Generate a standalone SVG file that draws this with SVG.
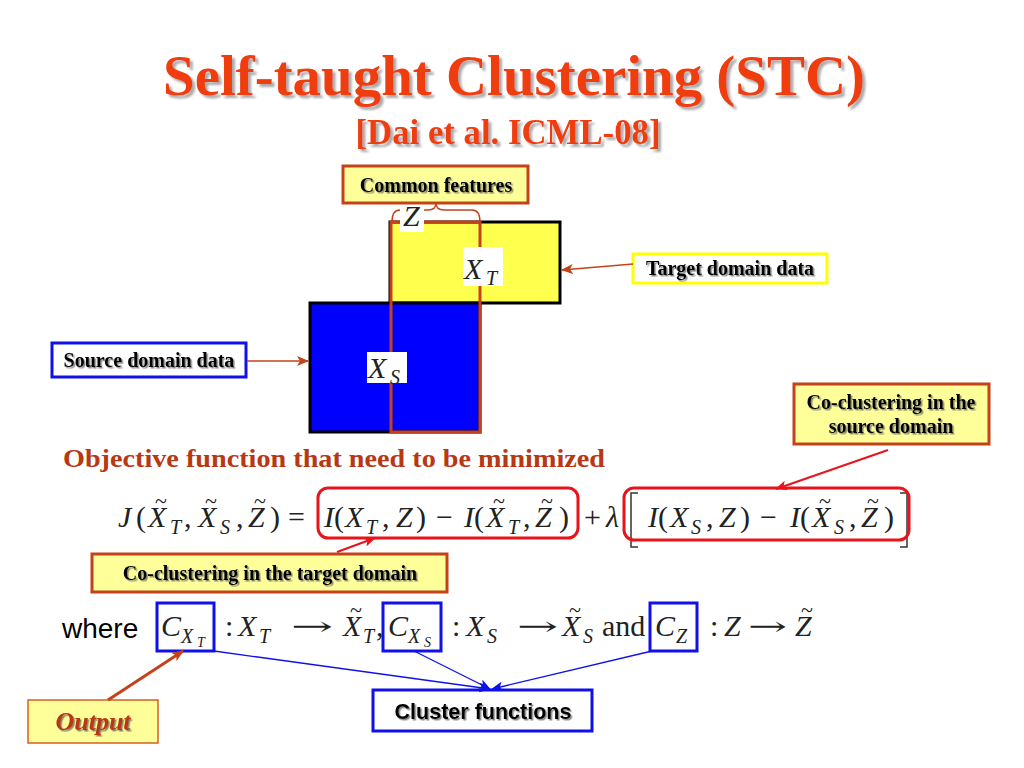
<svg xmlns="http://www.w3.org/2000/svg" width="1024" height="768" viewBox="0 0 1024 768">
<style>
.title{font-family:"Liberation Serif",serif;font-weight:bold;fill:#f03c10}
.lbl{font-family:"Liberation Serif",serif;font-weight:bold;font-size:20px;fill:#000}
.m{font-family:"Liberation Serif",serif;font-style:italic;font-size:30px;fill:#222}
.u{font-family:"Liberation Serif",serif;font-size:30px;fill:#222}
.s{font-family:"Liberation Serif",serif;font-style:italic;font-size:20px;fill:#222}
.ss{font-family:"Liberation Serif",serif;font-style:italic;font-size:14px;fill:#222}
.t{font-family:"Liberation Serif",serif;font-size:22px;fill:#222}
.ar{font-family:"DejaVu Serif",serif;font-size:26px;fill:#222}
.yb{fill:#ffff99;stroke:#c4421a;stroke-width:3}
.rb{fill:none;stroke:#e8141c;stroke-width:3}
.bb{fill:none;stroke:#1010e8;stroke-width:3}
.wb{fill:#fff;stroke:none}
</style>
<defs>
<filter id="sh" x="-10%" y="-30%" width="120%" height="160%"><feDropShadow dx="1.5" dy="1.5" stdDeviation="0.7" flood-color="#555" flood-opacity="0.7"/></filter>
<filter id="tsh" x="-5%" y="-20%" width="110%" height="140%"><feDropShadow dx="3" dy="3" stdDeviation="1.2" flood-color="#888" flood-opacity="0.7"/></filter>
<marker id="ab" viewBox="0 0 12 10" refX="11" refY="5" markerWidth="12" markerHeight="10" markerUnits="userSpaceOnUse" orient="auto"><path d="M0,0 L12,5 L0,10 L3,5 z" fill="#c4421a"/></marker>
<marker id="ar" viewBox="0 0 12 10" refX="11" refY="5" markerWidth="12" markerHeight="10" markerUnits="userSpaceOnUse" orient="auto"><path d="M0,0 L12,5 L0,10 L3,5 z" fill="#e8141c"/></marker>
<marker id="abl" viewBox="0 0 12 10" refX="11" refY="5" markerWidth="12" markerHeight="10" markerUnits="userSpaceOnUse" orient="auto"><path d="M0,0 L12,5 L0,10 L3,5 z" fill="#1010e8"/></marker>
</defs>
<rect width="1024" height="768" fill="#fff"/>

<g id="title" filter="url(#tsh)">
<text class="title" x="514" y="95" font-size="57" text-anchor="middle" textLength="702" lengthAdjust="spacingAndGlyphs">Self-taught Clustering (STC)</text>
<text class="title" x="508" y="144" font-size="35" text-anchor="middle" textLength="305" lengthAdjust="spacingAndGlyphs">[Dai et al. ICML-08]</text>
</g>

<g id="XT">
<rect x="390" y="222" width="170" height="81" fill="#ffff4d" stroke="#000" stroke-width="3"/>
</g>
<g id="XS">
<rect x="310" y="303" width="170" height="129" fill="#0000ff" stroke="#000" stroke-width="3"/>
</g>
<g id="Zcol">
<rect x="391" y="222" width="89" height="210" fill="none" stroke="#c4421a" stroke-width="3"/>
<path d="M392,222 Q392,210 400,210 H428 Q436,210 436,203 Q436,210 444,210 H472 Q480,210 480,222" fill="none" stroke="#c4421a" stroke-width="1.5"/>
<rect class="wb" x="400" y="202" width="24" height="30"/>
<text class="m" x="403" y="226">Z</text>
</g>
<g id="XT-label">
<rect class="wb" x="463" y="247" width="40" height="39"/>
<text class="m" x="464" y="279" font-size="34">X</text>
<text class="s" x="486" y="285" font-size="22">T</text>
</g>
<g id="XS-label">
<rect class="wb" x="367" y="352" width="40" height="31"/>
<text class="m" x="368" y="378" font-size="34">X</text>
<text class="s" x="390" y="384" font-size="22">S</text>
</g>

<g id="common-features">
<rect class="yb" x="343" y="166" width="185" height="37"/>
<text class="lbl" x="436" y="192" text-anchor="middle" filter="url(#sh)">Common features</text>
</g>
<g id="target-domain-data">
<rect x="633" y="254" width="194" height="29" fill="#fff" stroke="#ffff00" stroke-width="3"/>
<text class="lbl" x="730" y="275" text-anchor="middle" filter="url(#sh)">Target domain data</text>
</g>
<g id="source-domain-data">
<rect x="52" y="343" width="194" height="34" fill="#fff" stroke="#1010e8" stroke-width="3"/>
<text class="lbl" x="149" y="367" text-anchor="middle" filter="url(#sh)">Source domain data</text>
</g>

<g id="objective">
<text x="63" y="467" font-family="Liberation Serif, serif" font-weight="bold" font-size="25" fill="#b83814" textLength="542" lengthAdjust="spacingAndGlyphs">Objective function that need to be minimized</text>
</g>

<g id="equation1">
<text class="m" x="118" y="527">J</text>
<text class="u" x="136" y="527">(</text>
<text class="m" x="148" y="527">X</text><text class="t" x="161" y="508" text-anchor="middle">~</text>
<text class="s" x="170" y="534">T</text>
<text class="u" x="184" y="527">,</text>
<text class="m" x="198" y="527">X</text><text class="t" x="211" y="508" text-anchor="middle">~</text>
<text class="s" x="220" y="534">S</text>
<text class="u" x="236" y="527">,</text>
<text class="m" x="248" y="527">Z</text><text class="t" x="260" y="508" text-anchor="middle">~</text>
<text class="u" x="270" y="527">)</text>
<text class="u" x="288" y="527">=</text>

<text class="m" x="324" y="527">I</text>
<text class="u" x="334" y="527">(</text>
<text class="m" x="345" y="527">X</text>
<text class="s" x="366" y="534">T</text>
<text class="u" x="382" y="527">,</text>
<text class="m" x="396" y="527">Z</text>
<text class="u" x="416" y="527">)</text>
<text class="u" x="436" y="527">−</text>
<text class="m" x="464" y="527">I</text>
<text class="u" x="474" y="527">(</text>
<text class="m" x="486" y="527">X</text><text class="t" x="499" y="508" text-anchor="middle">~</text>
<text class="s" x="508" y="534">T</text>
<text class="u" x="523" y="527">,</text>
<text class="m" x="535" y="527">Z</text><text class="t" x="547" y="508" text-anchor="middle">~</text>
<text class="u" x="559" y="527">)</text>

<text class="u" x="584" y="527">+</text>
<text class="m" x="606" y="527">λ</text>
<path d="M638,493 H631 V547 H638 M900,493 H907 V547 H900" fill="none" stroke="#333" stroke-width="1.5"/>
<text class="m" x="648" y="527">I</text>
<text class="u" x="658" y="527">(</text>
<text class="m" x="670" y="527">X</text>
<text class="s" x="691" y="534">S</text>
<text class="u" x="706" y="527">,</text>
<text class="m" x="719" y="527">Z</text>
<text class="u" x="740" y="527">)</text>
<text class="u" x="760" y="527">−</text>
<text class="m" x="790" y="527">I</text>
<text class="u" x="800" y="527">(</text>
<text class="m" x="812" y="527">X</text><text class="t" x="825" y="508" text-anchor="middle">~</text>
<text class="s" x="834" y="534">S</text>
<text class="u" x="849" y="527">,</text>
<text class="m" x="861" y="527">Z</text><text class="t" x="873" y="508" text-anchor="middle">~</text>
<text class="u" x="884" y="527">)</text>
</g>

<g id="target-term">
<rect class="rb" x="318" y="488" width="260" height="50" rx="10"/>
</g>
<g id="source-term">
<rect class="rb" x="624" y="488" width="285" height="52" rx="10"/>
</g>

<g id="co-clustering-source">
<rect class="yb" x="794" y="384" width="195" height="60"/>
<text class="lbl" x="891" y="409" text-anchor="middle" filter="url(#sh)">Co-clustering in the</text>
<text class="lbl" x="891" y="433" text-anchor="middle" filter="url(#sh)">source domain</text>
</g>
<g id="co-clustering-target">
<rect class="yb" x="92" y="554" width="355" height="38"/>
<text class="lbl" x="270" y="580" text-anchor="middle" filter="url(#sh)">Co-clustering in the target domain</text>
</g>

<g id="where">
<text x="62" y="638" font-family="Liberation Sans, Arial, sans-serif" font-size="28" fill="#000">where</text>
</g>

<g id="equation2">
<text class="m" x="161" y="636">C</text>
<text class="s" x="181" y="643">X</text>
<text class="ss" x="197" y="647">T</text>
<text class="u" x="225" y="636">:</text>
<text class="m" x="238" y="636">X</text>
<text class="s" x="259" y="643">T</text>
<text class="ar" x="291" y="635" textLength="42" lengthAdjust="spacingAndGlyphs">→</text>
<text class="m" x="343" y="636">X</text><text class="t" x="356" y="617" text-anchor="middle">~</text>
<text class="s" x="363" y="643">T</text>
<text class="u" x="376" y="636">,</text>
<text class="m" x="388" y="636">C</text>
<text class="s" x="408" y="643">X</text>
<text class="ss" x="424" y="647">S</text>
<text class="u" x="452" y="636">:</text>
<text class="m" x="466" y="636">X</text>
<text class="s" x="487" y="643">S</text>
<text class="ar" x="517" y="635" textLength="41" lengthAdjust="spacingAndGlyphs">→</text>
<text class="m" x="562" y="636">X</text><text class="t" x="575" y="617" text-anchor="middle">~</text>
<text class="s" x="583" y="643">S</text>
<text class="u" x="602" y="636">and</text>
<text class="m" x="655" y="636">C</text>
<text class="s" x="676" y="643">Z</text>
<text class="u" x="710" y="636">:</text>
<text class="m" x="724" y="636">Z</text>
<text class="ar" x="748" y="635" textLength="39" lengthAdjust="spacingAndGlyphs">→</text>
<text class="m" x="795" y="636">Z</text><text class="t" x="807" y="617" text-anchor="middle">~</text>
</g>

<g id="CXT-box"><rect class="bb" x="157" y="603" width="57" height="48"/></g>
<g id="CXS-box"><rect class="bb" x="383" y="603" width="58" height="48"/></g>
<g id="CZ-box"><rect class="bb" x="650" y="603" width="47" height="48"/></g>

<g id="cluster-functions">
<rect x="373" y="690" width="219" height="41" fill="#fff" stroke="#1010e8" stroke-width="3"/>
<text x="483" y="719" text-anchor="middle" font-family="Liberation Sans, Arial, sans-serif" font-weight="bold" font-size="21.5" fill="#000" filter="url(#sh)">Cluster functions</text>
</g>
<g id="output">
<rect x="28" y="700" width="130" height="43" fill="#ffff99" stroke="#d86020" stroke-width="1.5"/>
<text x="93" y="730" text-anchor="middle" font-family="Liberation Serif, serif" font-weight="bold" font-style="italic" font-size="26" fill="#b83814" filter="url(#sh)">Output</text>
</g>

<g id="connectors" fill="none">
<line x1="247" y1="361" x2="308" y2="361" stroke="#c4421a" stroke-width="1.5" marker-end="url(#ab)"/>
<line x1="633" y1="264" x2="562" y2="270" stroke="#c4421a" stroke-width="1.5" marker-end="url(#ab)"/>
<line x1="888" y1="450" x2="776" y2="489" stroke="#e8141c" stroke-width="2" marker-end="url(#ar)"/>
<line x1="337" y1="552" x2="375" y2="538" stroke="#e8141c" stroke-width="2" marker-end="url(#ar)"/>
<line x1="214" y1="651" x2="490" y2="689" stroke="#1010e8" stroke-width="1.3" marker-end="url(#abl)"/>
<line x1="414" y1="651" x2="490" y2="689" stroke="#1010e8" stroke-width="1.3" marker-end="url(#abl)"/>
<line x1="652" y1="651" x2="492" y2="689" stroke="#1010e8" stroke-width="1.3" marker-end="url(#abl)"/>
<line x1="108" y1="700" x2="183" y2="651" stroke="#c4421a" stroke-width="3" marker-end="url(#ab)"/>
</g>
</svg>
